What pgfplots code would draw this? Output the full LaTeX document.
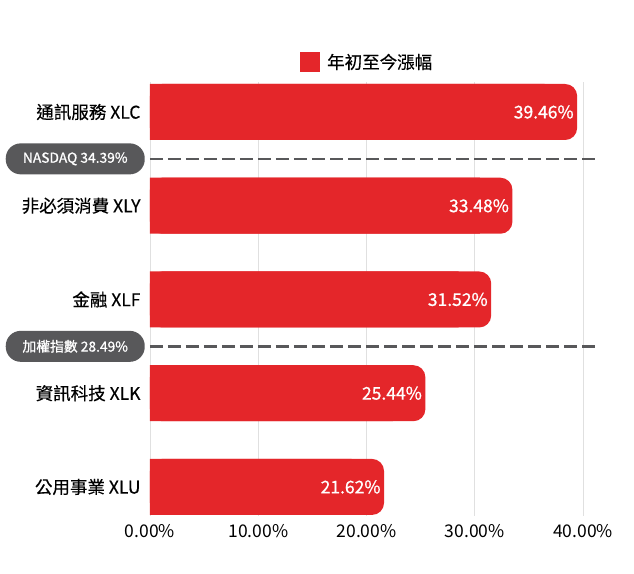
\documentclass[border=0pt]{standalone}
\usepackage{fontspec}
\setmainfont{Noto Sans CJK TC}
\newfontfamily\medfont{Noto Sans CJK TC}[FakeBold=0.4]
\newfontfamily\boldfont{Noto Sans CJK TC}[FakeBold=0.9]
\usepackage{pgfplots}
\usepackage{pgfplotstable}
\pgfplotsset{compat=1.18}

\definecolor{barred}{HTML}{E4262A}
\definecolor{dgray}{HTML}{58585A}
\definecolor{gridgray}{HTML}{E0E0E0}

\pgfplotstableread{
y v
4 39.46
3 33.48
2 31.52
1 25.44
0 21.62
}\etfdata

\newcommand{\lbl}{\fontsize{17.5bp}{21bp}\selectfont}
\newcommand{\catlbl}{\medfont\fontsize{17.5bp}{21bp}\selectfont}
\newcommand{\vallbl}{\boldfont\fontsize{17.5bp}{21bp}\selectfont}
\newcommand{\boxlbl}{\boldfont\fontsize{13.8bp}{16bp}\selectfont}

\begin{document}
\begin{tikzpicture}
\useasboundingbox (-150bp,-58bp) rectangle (484bp,516bp);
\begin{axis}[
    at={(0,0)}, anchor=south west,
    scale only axis,
    width=433bp, height=434bp,
    xmin=0, xmax=40,
    ymin=-0.31, ymax=4.32,
    clip=false,
    axis line style={draw=none},
    tick style={draw=none},
    major tick length=0pt,
    xmajorgrids,
    grid style={gridgray, line width=0.8bp},
    xtick={0,10,20,30,40},
    xticklabel={\pgfmathprintnumber[fixed,fixed zerofill,precision=2]{\tick}\%},
    xticklabel style={font=\lbl, yshift=-5bp},
    ytick={0,1,2,3,4},
    yticklabels={公用事業 XLU, 資訊科技 XLK, 金融 XLF, 非必須消費 XLY, 通訊服務 XLC},
    yticklabel style={font=\catlbl, xshift=-6bp},
    /pgf/number format/assume math mode=true,
    legend style={at={(0.3464,1.046)}, anchor=west, draw=none, fill=none,
        font=\catlbl, inner sep=0pt,
        /tikz/every odd column/.append style={column sep=5bp}},
    legend image code/.code={\fill[barred, sharp corners] (0bp,-10bp) rectangle (20bp,10bp);},
]
% square-ended body of each bar
\addplot[xbar, bar shift=0pt, bar width=56bp, fill=barred, draw=none, forget plot]
    table[x expr=\thisrow{v}-3, y=y] {\etfdata};
% rounded end and value label
\addplot[xbar, bar shift=0pt, bar width=56bp, fill=barred, draw=none,
    rounded corners=12bp,
    point meta=x,
    nodes near coords={\pgfmathprintnumber[fixed,fixed zerofill,precision=2]{\pgfplotspointmeta}\%},
    every node near coord/.append style={anchor=east, xshift=0bp, text=white, font=\vallbl, rounded corners=0pt},
    ]
    table[x=v, y=y] {\etfdata};
\addlegendentry{年初至今漲幅}

% benchmark separators
\addplot[dgray, line width=2.5bp, dash pattern=on 13bp off 5bp, forget plot]
    coordinates {(0,3.5) (41.3,3.5)}
    node[pos=0, anchor=east, xshift=-4bp, fill=dgray, rounded corners=15bp,
         minimum width=139bp, minimum height=31bp, inner sep=0pt,
         text=white, font=\boxlbl, solid] {NASDAQ 34.39\%};
\addplot[dgray, line width=2.5bp, dash pattern=on 13bp off 5bp, forget plot]
    coordinates {(0,1.5) (41.3,1.5)}
    node[pos=0, anchor=east, xshift=-4bp, fill=dgray, rounded corners=15bp,
         minimum width=139bp, minimum height=31bp, inner sep=0pt,
         text=white, font=\boxlbl, solid] {加權指數 28.49\%};
\end{axis}
\end{tikzpicture}
\end{document}
